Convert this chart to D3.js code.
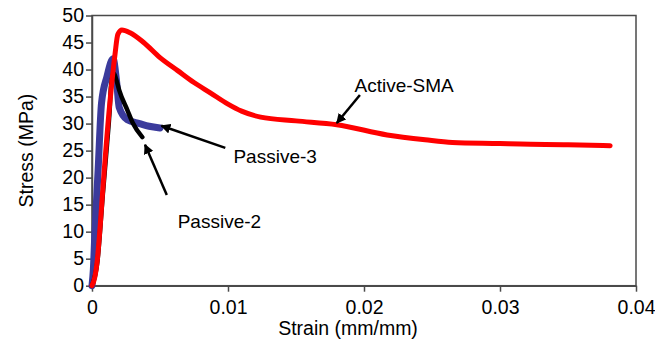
<!DOCTYPE html>
<html>
<head>
<meta charset="utf-8">
<script src="https://cdn.jsdelivr.net/npm/d3@7"></script>
<style>
  body { margin: 0; background: #fff; }
  svg { display: block; font-family: "Liberation Sans", Arial, sans-serif; }
</style>
</head>
<body>
<svg id="chart" width="655" height="347"></svg>
<script>
// Active-SMA (red)
const activeStrain = [0, 0.0002, 0.0004, 0.0006, 0.0008, 0.0013, 0.0017, 0.0019, 0.0022, 0.0028, 0.0038, 0.005, 0.0063, 0.0075, 0.0087, 0.0100, 0.0110, 0.0124, 0.015, 0.018, 0.0217, 0.0245, 0.0265, 0.030, 0.0315, 0.035, 0.0381];
const activeStress = [0, 1.5, 5, 11, 18, 33.5, 43, 46.5, 47.3, 46.8, 45, 42.2, 39.8, 37.6, 35.7, 33.6, 32.3, 31.2, 30.5, 29.8, 27.9, 27.0, 26.5, 26.3, 26.2, 26.1, 25.9];

// Passive-3 (blue)
const passive3Strain = [0, 0.0001, 0.0002, 0.00045, 0.0007, 0.0011, 0.00155, 0.0018, 0.002, 0.0026, 0.0035, 0.0042, 0.005];
const passive3Stress = [0, 3, 9, 21.4, 33.8, 38.7, 42, 38, 33, 30.7, 30, 29.5, 29.2];

// Passive-2 (black)
const passive2Strain = [0, 0.0004, 0.0008, 0.0011, 0.0013, 0.0014, 0.0016, 0.0018, 0.002, 0.0026, 0.003, 0.0037];
const passive2Stress = [0, 4.5, 17, 26, 32.5, 37, 39.3, 38, 36.2, 32.5, 30.1, 27.5];

const xTicks = [0, 0.01, 0.02, 0.03, 0.04];
const yTicks = [0, 5, 10, 15, 20, 25, 30, 35, 40, 45, 50];

// annotation labels with arrow tail / tip (data units)
const labels = ["Active-SMA", "Passive-3", "Passive-2"];
const labelPos = [[0.0193, 35.9], [0.0104, 22.7], [0.0063, 10.7]];
const arrowFrom = [[0.0197, 35.3], [0.0098, 25.5], [0.0055, 16.8]];
const arrowTo = [[0.0180, 30.1], [0.0051, 29.6], [0.0039, 26.1]];

const svg = d3.select("#chart");
const area = { left: 92, right: 636, top: 15.5, bottom: 285.7 };

const x = d3.scaleLinear().domain([0, 0.04]).range([area.left, area.right]);
const y = d3.scaleLinear().domain([0, 50]).range([area.bottom, area.top]);

const frameColor = "#4a4a4a";

// frame
svg.append("rect")
    .attr("x", area.left).attr("y", area.top)
    .attr("width", area.right - area.left).attr("height", area.bottom - area.top)
    .attr("fill", "none").attr("stroke", frameColor).attr("stroke-width", 1.5);

// axes
const axisX = svg.append("g")
    .attr("transform", `translate(0,${area.bottom})`)
    .call(d3.axisBottom(x).tickValues(xTicks).tickFormat(d => d === 0 ? "0" : d3.format(".2f")(d)).tickSize(6).tickSizeOuter(0));
const axisY = svg.append("g")
    .attr("transform", `translate(${area.left},0)`)
    .call(d3.axisLeft(y).tickValues(yTicks).tickSize(6).tickSizeOuter(0));

[axisX, axisY].forEach(g => {
    g.select(".domain").attr("stroke", frameColor).attr("stroke-width", 1.5);
    g.selectAll(".tick line").attr("stroke", frameColor).attr("stroke-width", 1.5);
    g.selectAll(".tick text").attr("fill", "#000").style("font-size", "19.5px")
        .style("font-family", "Liberation Sans, Arial, sans-serif");
});
axisX.selectAll(".tick text").attr("dy", "1.0em");
axisY.selectAll(".tick text").attr("x", -8);

// axis titles
svg.append("text")
    .attr("x", 348).attr("y", 335)
    .attr("text-anchor", "middle").style("font-size", "19.5px")
    .text("Strain (mm/mm)");
svg.append("text")
    .attr("transform", `translate(33,${(area.top + area.bottom) / 2}) rotate(-90)`)
    .attr("text-anchor", "middle").style("font-size", "19.5px")
    .text("Stress (MPa)");

// series
const line = d3.line().x(d => x(d[0])).y(d => y(d[1])).curve(d3.curveMonotoneX);
const series = [
    { xs: passive3Strain, ys: passive3Stress, color: "#3b3b9c", width: 7 },
    { xs: passive2Strain, ys: passive2Stress, color: "#000", width: 4.5 },
    { xs: activeStrain, ys: activeStress, color: "#ff0000", width: 5 }
];
series.forEach(s => {
    svg.append("path")
        .datum(d3.zip(s.xs, s.ys))
        .attr("fill", "none")
        .attr("stroke", s.color)
        .attr("stroke-width", s.width)
        .attr("stroke-linejoin", "round")
        .attr("stroke-linecap", "round")
        .attr("d", line);
});

// arrows
svg.append("defs").append("marker")
    .attr("id", "head")
    .attr("viewBox", "0 0 10 10")
    .attr("refX", 9).attr("refY", 5)
    .attr("markerWidth", 4).attr("markerHeight", 4)
    .attr("orient", "auto")
    .append("path").attr("d", "M0,0 L10,5 L0,10 z").attr("fill", "#000");

labels.forEach((t, i) => {
    svg.append("line")
        .attr("x1", x(arrowFrom[i][0])).attr("y1", y(arrowFrom[i][1]))
        .attr("x2", x(arrowTo[i][0])).attr("y2", y(arrowTo[i][1]))
        .attr("stroke", "#000").attr("stroke-width", 2.5)
        .attr("marker-end", "url(#head)");
    svg.append("text")
        .attr("x", x(labelPos[i][0])).attr("y", y(labelPos[i][1]))
        .style("font-size", "19px")
        .text(t);
});
</script>
</body>
</html>
